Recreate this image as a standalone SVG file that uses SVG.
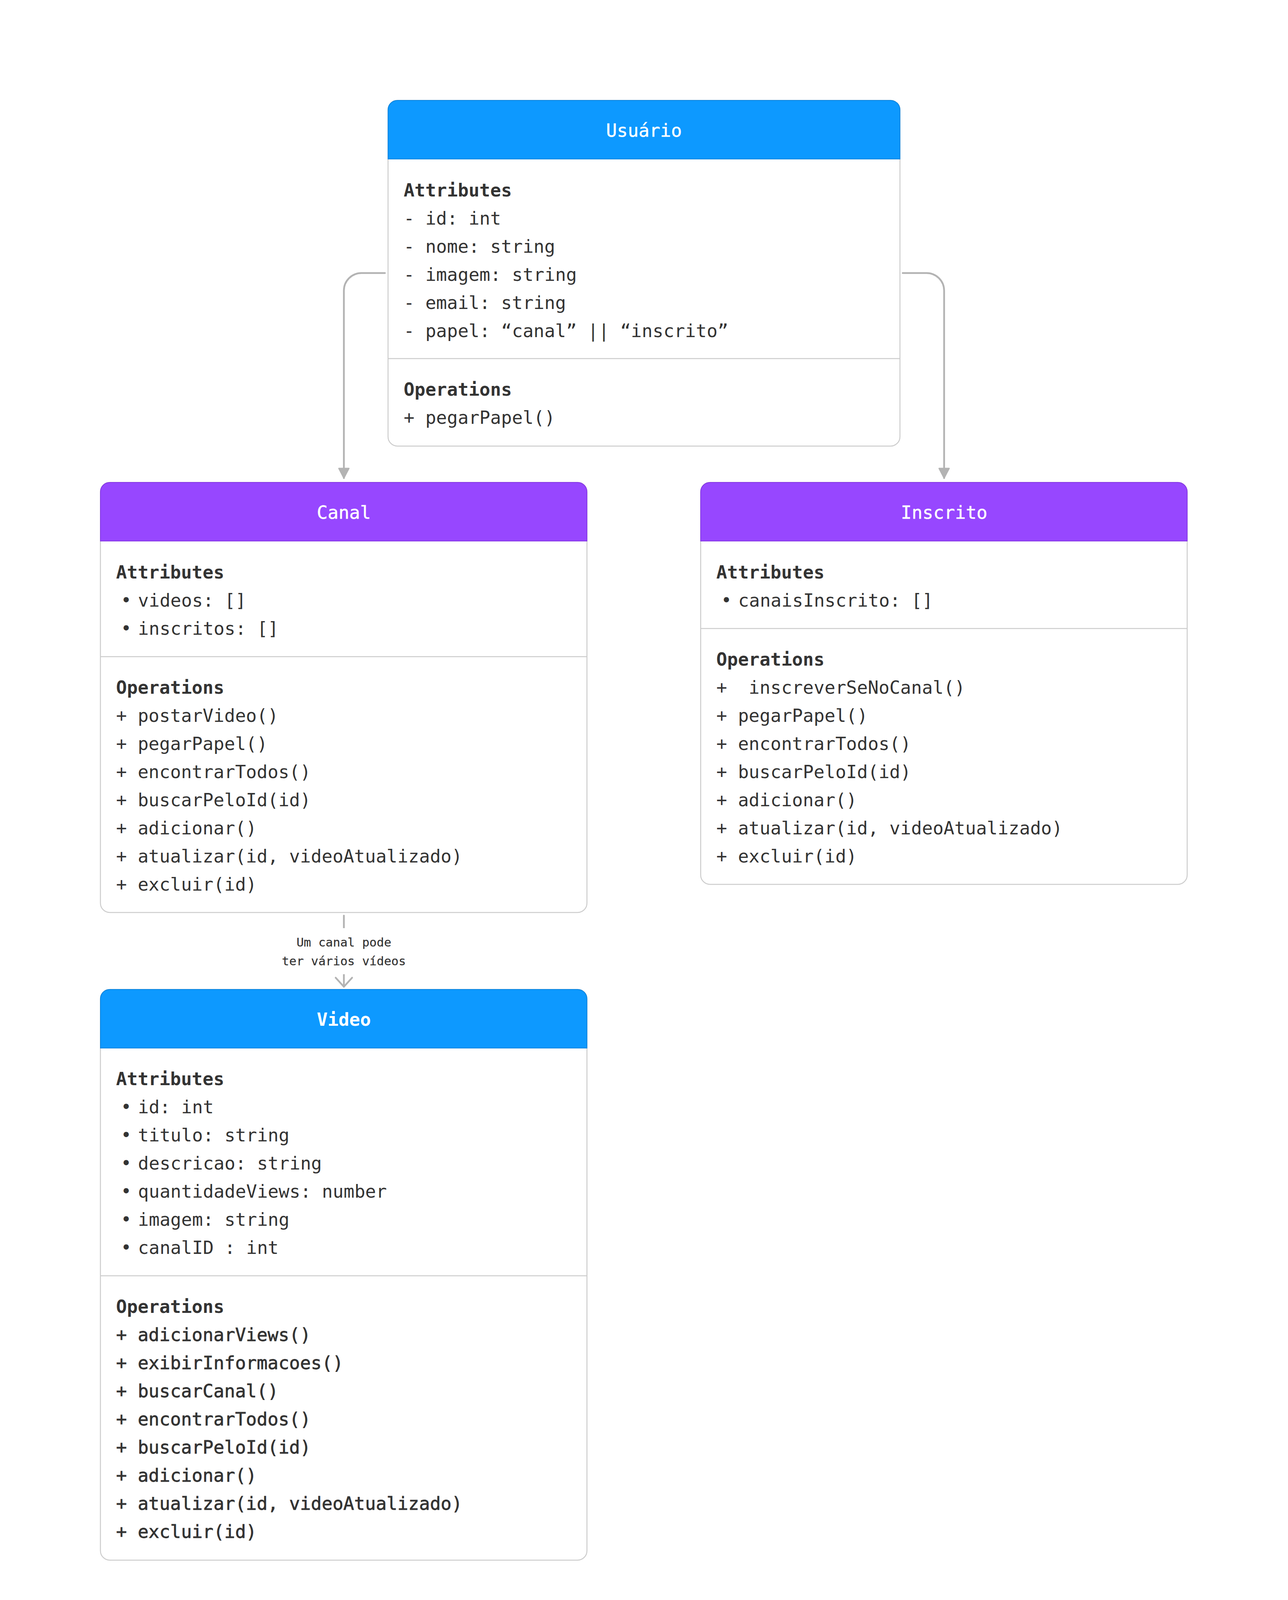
<svg xmlns="http://www.w3.org/2000/svg" width="3296" height="4252" viewBox="0 0 3296 4252">
<style>
.body{fill:#ffffff;stroke:#cccccc;stroke-width:2.5}
.hb{fill:#0d99ff;stroke:#0a85e0;stroke-width:2}
.hp{fill:#9747ff;stroke:#8638e5;stroke-width:2}
.div{stroke:#cccccc;stroke-width:2.5}
.ttl{font-family:"DejaVu Sans Mono","Liberation Mono",monospace;font-size:46px;fill:#ffffff;stroke:#ffffff;stroke-width:0.6;text-anchor:middle}
.sec{font-family:"DejaVu Sans Mono","Liberation Mono",monospace;font-size:46px;font-weight:bold;fill:#333333}
.t{font-family:"DejaVu Sans Mono","Liberation Mono",monospace;font-size:46px;fill:#333333}
.tb{font-family:"DejaVu Sans Mono","Liberation Mono",monospace;font-size:46px;fill:#333333;stroke:#333333;stroke-width:0.9}
.lbl{font-family:"DejaVu Sans Mono","Liberation Mono",monospace;font-size:31px;fill:#333333;stroke:#333333;stroke-width:0.3;text-anchor:middle}
.con{fill:none;stroke:#b3b3b3;stroke-width:4.5;stroke-linecap:round;stroke-linejoin:round}
</style>
<defs>
<marker id="tri" markerUnits="userSpaceOnUse" viewBox="-30 -18 34 36" refX="0" refY="0" markerWidth="34" markerHeight="36" orient="auto">
<path d="M-25,-13 L0,0 L-25,13 Z" fill="#b3b3b3" stroke="#b3b3b3" stroke-width="3" stroke-linejoin="round"/>
</marker>
<marker id="open" markerUnits="userSpaceOnUse" viewBox="-30 -26 36 52" refX="0" refY="0" markerWidth="36" markerHeight="52" orient="auto">
<path d="M-23,-21 L0,0 L-23,21" fill="none" stroke="#b3b3b3" stroke-width="4.5" stroke-linecap="round" stroke-linejoin="round"/>
</marker>
</defs>
<rect width="3296" height="4252" fill="#ffffff"/>

<g id="connectors">
<path class="con" d="M985,699 H925 A45,45 0 0 0 880,744 V1224" marker-end="url(#tri)"/>
<path class="con" d="M2310,699 H2371 A45,45 0 0 1 2416,744 V1224" marker-end="url(#tri)"/>
<path class="con" d="M880,2344 V2526" marker-end="url(#open)"/>
<rect x="700" y="2376" width="360" height="118" fill="#ffffff"/>
<text class="lbl" x="880" y="2423">Um canal pode</text>
<text class="lbl" x="880" y="2471">ter vários vídeos</text>
</g>

<g id="usuario">
<rect class="body" x="993" y="257" width="1310" height="885" rx="24"/>
<path class="hb" d="M993,281 A24,24 0 0 1 1017,257 H2279 A24,24 0 0 1 2303,281 V407 H993 Z"/>
<text class="ttl" x="1648" y="350">Usuário</text>
<text class="sec" x="1033" y="503">Attributes</text>
<text class="t" x="1033" y="575">- id: int</text>
<text class="t" x="1033" y="647">- nome: string</text>
<text class="t" x="1033" y="719">- imagem: string</text>
<text class="t" x="1033" y="791">- email: string</text>
<text class="t" x="1033" y="863">- papel: “canal” || “inscrito”</text>
<line class="div" x1="993" y1="918" x2="2303" y2="918"/>
<text class="sec" x="1033" y="1013">Operations</text>
<text class="t" x="1033" y="1085">+ pegarPapel()</text>
</g>

<g id="canal">
<rect class="body" x="257" y="1235" width="1245" height="1101" rx="24"/>
<path class="hp" d="M257,1259 A24,24 0 0 1 281,1235 H1478 A24,24 0 0 1 1502,1259 V1385 H257 Z"/>
<text class="ttl" x="880" y="1328">Canal</text>
<text class="sec" x="297" y="1481">Attributes</text>
<text class="t" y="1553"><tspan x="309">•</tspan><tspan x="353">videos: []</tspan></text>
<text class="t" y="1625"><tspan x="309">•</tspan><tspan x="353">inscritos: []</tspan></text>
<line class="div" x1="257" y1="1681" x2="1502" y2="1681"/>
<text class="sec" x="297" y="1776">Operations</text>
<text class="t" x="297" y="1848">+ postarVideo()</text>
<text class="t" x="297" y="1920">+ pegarPapel()</text>
<text class="t" x="297" y="1992">+ encontrarTodos()</text>
<text class="t" x="297" y="2064">+ buscarPeloId(id)</text>
<text class="t" x="297" y="2136">+ adicionar()</text>
<text class="t" x="297" y="2208">+ atualizar(id, videoAtualizado)</text>
<text class="t" x="297" y="2280">+ excluir(id)</text>
</g>

<g id="inscrito">
<rect class="body" x="1793" y="1235" width="1245" height="1029" rx="24"/>
<path class="hp" d="M1793,1259 A24,24 0 0 1 1817,1235 H3014 A24,24 0 0 1 3038,1259 V1385 H1793 Z"/>
<text class="ttl" x="2416" y="1328">Inscrito</text>
<text class="sec" x="1833" y="1481">Attributes</text>
<text class="t" y="1553"><tspan x="1845">•</tspan><tspan x="1889">canaisInscrito: []</tspan></text>
<line class="div" x1="1793" y1="1609" x2="3038" y2="1609"/>
<text class="sec" x="1833" y="1704">Operations</text>
<text class="t" x="1833" y="1776" xml:space="preserve">+  inscreverSeNoCanal()</text>
<text class="t" x="1833" y="1848">+ pegarPapel()</text>
<text class="t" x="1833" y="1920">+ encontrarTodos()</text>
<text class="t" x="1833" y="1992">+ buscarPeloId(id)</text>
<text class="t" x="1833" y="2064">+ adicionar()</text>
<text class="t" x="1833" y="2136">+ atualizar(id, videoAtualizado)</text>
<text class="t" x="1833" y="2208">+ excluir(id)</text>
</g>

<g id="video">
<rect class="body" x="257" y="2533" width="1245" height="1461" rx="24"/>
<path class="hb" d="M257,2557 A24,24 0 0 1 281,2533 H1478 A24,24 0 0 1 1502,2557 V2683 H257 Z"/>
<text class="ttl" x="880" y="2626" style="font-weight:bold;stroke-width:0">Video</text>
<text class="sec" x="297" y="2778">Attributes</text>
<text class="t" y="2850"><tspan x="309">•</tspan><tspan x="353">id: int</tspan></text>
<text class="t" y="2922"><tspan x="309">•</tspan><tspan x="353">titulo: string</tspan></text>
<text class="t" y="2994"><tspan x="309">•</tspan><tspan x="353">descricao: string</tspan></text>
<text class="t" y="3066"><tspan x="309">•</tspan><tspan x="353">quantidadeViews: number</tspan></text>
<text class="t" y="3138"><tspan x="309">•</tspan><tspan x="353">imagem: string</tspan></text>
<text class="t" y="3210"><tspan x="309">•</tspan><tspan x="353">canalID : int</tspan></text>
<line class="div" x1="257" y1="3266" x2="1502" y2="3266"/>
<text class="sec" x="297" y="3361">Operations</text>
<text class="tb" x="297" y="3433">+ adicionarViews()</text>
<text class="tb" x="297" y="3505">+ exibirInformacoes()</text>
<text class="tb" x="297" y="3577">+ buscarCanal()</text>
<text class="tb" x="297" y="3649">+ encontrarTodos()</text>
<text class="tb" x="297" y="3721">+ buscarPeloId(id)</text>
<text class="tb" x="297" y="3793">+ adicionar()</text>
<text class="tb" x="297" y="3865">+ atualizar(id, videoAtualizado)</text>
<text class="tb" x="297" y="3937">+ excluir(id)</text>
</g>
</svg>
